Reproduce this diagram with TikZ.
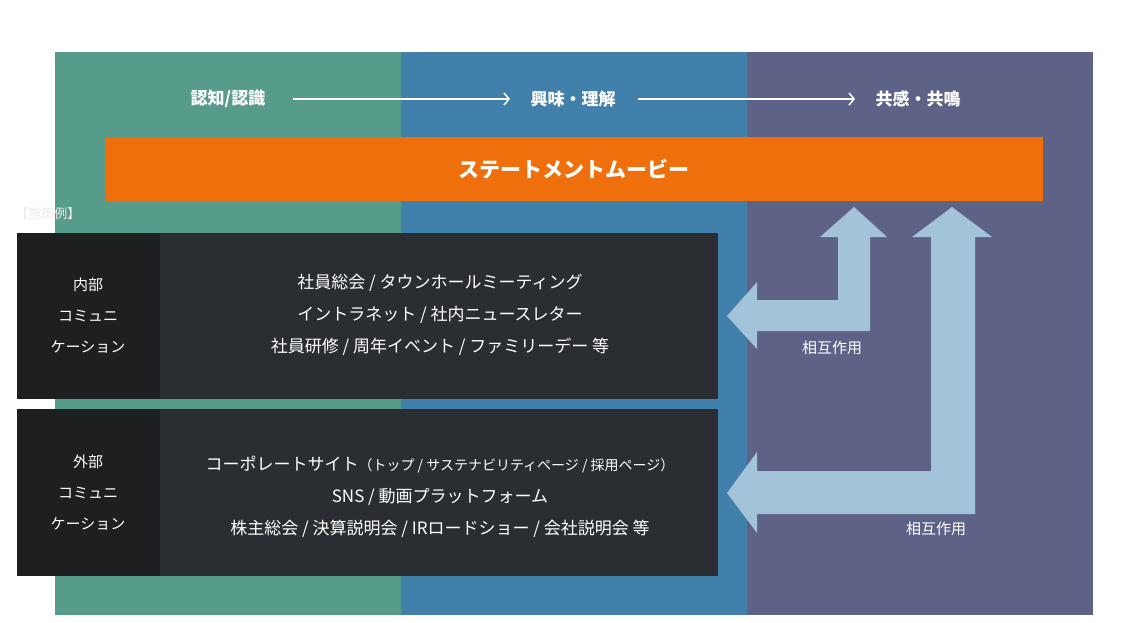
\documentclass[tikz,border=0pt]{standalone}
\usepackage{fontspec}
\setmainfont{Noto Sans CJK JP}
\usetikzlibrary{arrows.meta}
\begin{document}
\begin{tikzpicture}[x=1pt,y=-1pt,
  lbl/.style={text=white,font=\fontsize{17}{20}\selectfont\bfseries},
  body/.style={text=white,font=\fontsize{17}{32}\selectfont,align=center},
  side/.style={text=white,font=\fontsize{15}{31}\selectfont,align=center},
  flow/.style={white,line width=1.5pt,-{Straight Barb[length=5pt,width=12pt]}},
  big/.style={fill=arr,draw=none}]
\definecolor{teal}{HTML}{579C8B}\definecolor{blu}{HTML}{4080AA}\definecolor{pur}{HTML}{5D6286}
\definecolor{org}{HTML}{EF6F0C}\definecolor{arr}{HTML}{A3C4D8}
\definecolor{dk1}{HTML}{1E1F21}\definecolor{dk2}{HTML}{2A2E32}
\useasboundingbox (0,0) rectangle (1148,622);
\fill[white] (0,0) rectangle (1148,622);
\node[text=white,font=\fontsize{15}{18}\selectfont] (title) at (574,10) {ステークホルダーの知覚};
\fill[teal] (55,52) rectangle (401,615);
\fill[blu] (401,52) rectangle (747,615);
\fill[pur] (747,52) rectangle (1093,615);
\fill[org] (105,137) rectangle (1043,201);
\node[text=white,font=\fontsize{21}{24}\selectfont\bfseries] (movie) at (574,169) {ステートメントムービー};
\node[lbl] (a) at (228,99) {認知/認識};
\node[lbl] (b) at (573,99) {興味・理解};
\node[lbl] (c) at (918,99) {共感・共鳴};
\draw[flow] (293,99) -- (510,99);
\draw[flow] (638,99) -- (855,99);
\node[text=white!85!gray,font=\fontsize{13}{16}\selectfont] (ex) at (48,214) {【施策例】};
% boxes
\fill[dk2] (17,233) rectangle (718,399);
\fill[dk1] (17,233) rectangle (160,399);
\fill[dk2] (17,409) rectangle (718,576);
\fill[dk1] (17,409) rectangle (160,576);
\node[side] (s1) at (88,316) {内部\\コミュニ\\ケーション};
\node[side] (s2) at (88,493) {外部\\コミュニ\\ケーション};
\node[body] (t1) at (440,315) {社員総会 / タウンホールミーティング\\イントラネット / 社内ニュースレター\\社員研修 / 周年イベント / ファミリーデー 等};
\node[body] (t2) at (440,497) {コーポレートサイト{\fontsize{14}{14}\selectfont（トップ / サステナビリティページ / 採用ページ）}\\SNS / 動画プラットフォーム\\株主総会 / 決算説明会 / IRロードショー / 会社説明会 等};
% big arrows
\fill[big] (727,316) -- (757,282) -- (757,300) -- (838,300) -- (838,237) -- (820,237) -- (854,207) -- (887,237) -- (870,237) -- (870,331) -- (757,331) -- (757,349) -- cycle;
\fill[big] (727,493) -- (757,452) -- (757,471) -- (931,471) -- (931,237) -- (912,237) -- (952,207) -- (992,237) -- (975,237) -- (975,514) -- (757,514) -- (757,533) -- cycle;
\node[text=white,font=\fontsize{15}{18}\selectfont] (m1) at (832,348) {相互作用};
\node[text=white,font=\fontsize{15}{18}\selectfont] (m2) at (936,529) {相互作用};
\end{tikzpicture}
\end{document}
